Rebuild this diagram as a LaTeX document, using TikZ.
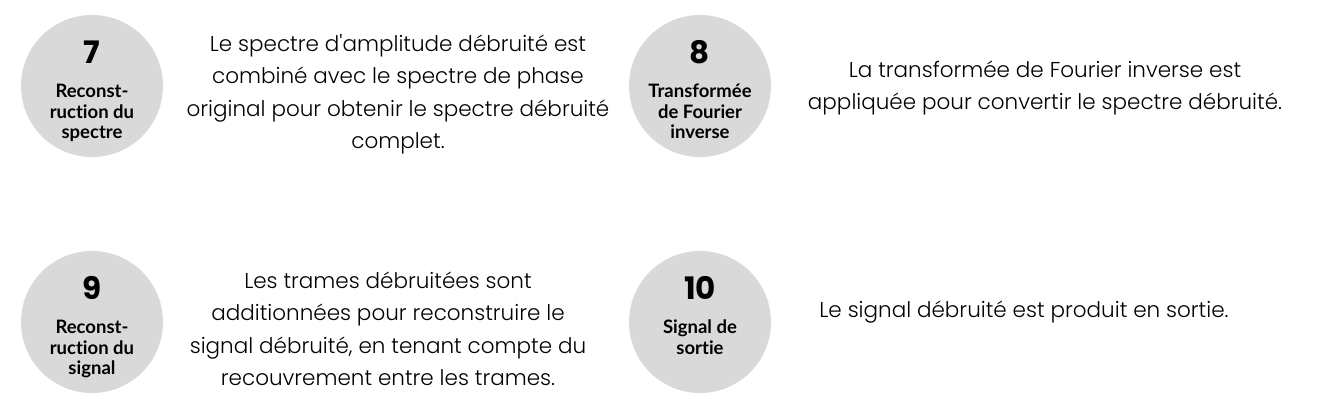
\documentclass[tikz,border=0pt]{standalone}
\usepackage{fontspec}
\setmainfont{Poppins Light}[Ligatures=TeXOff]
\newfontfamily\numfont{Poppins Bold}
\newfontfamily\labfont{Lato Bold}[Ligatures={NoCommon,NoRare}]
\definecolor{circgray}{HTML}{D9D9D9}
\tikzset{
  stepcircle/.style={circle,fill=circgray,minimum size=142pt,inner sep=0pt},
  num/.style={font=\numfont\fontsize{31}{31}\selectfont,inner sep=0pt},
  lab/.style={font=\labfont\fontsize{18.5}{20.5}\selectfont,align=center,inner sep=0pt,anchor=north},
  desc/.style={font=\fontsize{21.5}{32.5}\selectfont,align=center,inner sep=0pt}
}
\begin{document}
\begin{tikzpicture}[x=1pt,y=-1pt]
    \useasboundingbox (0,0) rectangle (1333,415);

    % Place the circles
    \node[stepcircle] (c7) at (92,86) {};
    \node[stepcircle] (c8) at (700,86) {};
    \node[stepcircle] (c9) at (92,322) {};
    \node[stepcircle] (c10) at (700,322) {};

    % Place the numbers and titles
    \node[num] (n7) at ([yshift=34pt]c7.center) {7};
    \node[lab] (l7) at ([yshift=2pt]c7.center) {Reconst-\\ruction du\\spectre};
    \node[num] (n8) at ([yshift=34pt]c8.center) {8};
    \node[lab] (l8) at ([yshift=2pt]c8.center) {Transformée\\de Fourier\\inverse};
    \node[num] (n9) at ([yshift=34pt]c9.center) {9};
    \node[lab] (l9) at ([yshift=2pt]c9.center) {Reconst-\\ruction du\\signal};
    \node[num] (n10) at ([yshift=34pt]c10.center) {10};
    \node[lab] (l10) at ([yshift=2pt]c10.center) {Signal de\\sortie};

    % Place the descriptions
    \node[desc] (t7) at (398,94) {Le spectre d'amplitude débruité est\\combiné avec le spectre de phase\\original pour obtenir le spectre débruité\\complet.};
    \node[desc] (t8) at (1045,88) {La transformée de Fourier inverse est\\appliquée pour convertir le spectre débruité.};
    \node[desc] (t9) at (388,329) {Les trames débruitées sont\\additionnées pour reconstruire le\\signal débruité, en tenant compte du\\recouvrement entre les trames.};
    \node[desc] (t10) at (1024,312) {Le signal débruité est produit en sortie.};

\end{tikzpicture}
\end{document}
